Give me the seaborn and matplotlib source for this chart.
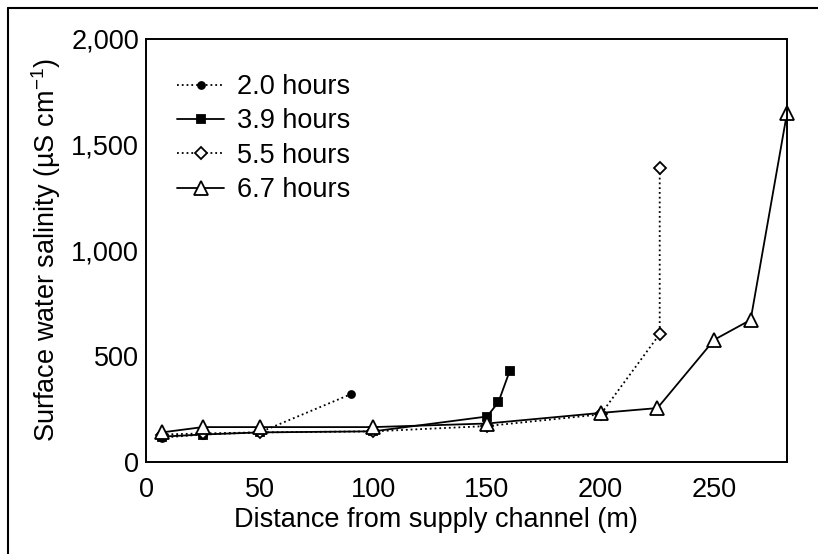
import matplotlib
matplotlib.use("Agg")
import matplotlib.pyplot as plt
import seaborn as sns
import pandas as pd
from matplotlib.ticker import FuncFormatter
from matplotlib.lines import Line2D

sns.set_style("white")
plt.rcParams['font.family'] = ['Liberation Sans', 'DejaVu Sans']
plt.rcParams['mathtext.fontset'] = 'custom'
plt.rcParams['mathtext.rm'] = 'Liberation Sans'
plt.rcParams['mathtext.it'] = 'Liberation Sans:italic'
plt.rcParams['text.color'] = 'black'
plt.rcParams['axes.labelcolor'] = 'black'
plt.rcParams['xtick.color'] = 'black'
plt.rcParams['ytick.color'] = 'black'

labels = ["2.0 hours", "3.9 hours", "5.5 hours", "6.7 hours"]
x_20 = [7, 25, 50, 90]
y_20 = [115, 130, 140, 320]
x_39 = [7, 25, 50, 100, 150, 155, 160]
y_39 = [120, 130, 140, 145, 215, 282, 430]
x_55 = [7, 25, 50, 100, 150, 200, 226, 226]
y_55 = [130, 135, 140, 145, 170, 225, 605, 1390]
x_67 = [7, 25, 50, 100, 150, 200, 225, 250, 266, 282]
y_67 = [140, 165, 165, 165, 182, 232, 255, 578, 672, 1650]

xs = [x_20, x_39, x_55, x_67]
ys = [y_20, y_39, y_55, y_67]
styles = [
    dict(linestyle=':', marker='o', markersize=5, markerfacecolor='black'),
    dict(linestyle='-', marker='s', markersize=6, markerfacecolor='black'),
    dict(linestyle=':', marker='D', markersize=6, markerfacecolor='white'),
    dict(linestyle='-', marker='^', markersize=10, markerfacecolor='white'),
]

FS = 19.5
fig = plt.figure(figsize=(8.18, 5.54), dpi=100)
ax = fig.add_axes([146/818, 1 - 462/554, (787-146)/818, (462-39)/554])

for lab, xv, yv, st in zip(labels, xs, ys, styles):
    df = pd.DataFrame({"x": xv, "y": yv})
    sns.lineplot(data=df, x="x", y="y", ax=ax, estimator=None, sort=False,
                 color='black', linewidth=1.3, markeredgecolor='black',
                 markeredgewidth=1.3, label=lab, clip_on=False, **st)

ax.set_xlim(0, 282)
ax.set_ylim(0, 2000)
ax.set_xticks([0, 50, 100, 150, 200, 250])
ax.set_yticks([0, 500, 1000, 1500, 2000])
ax.yaxis.set_major_formatter(FuncFormatter(lambda v, p: f"{int(v):,}"))
ax.tick_params(direction='in', length=5, width=1.2, labelsize=FS, colors='black')
ax.tick_params(axis='x', pad=11)
ax.tick_params(axis='y', pad=5)
for s in ax.spines.values():
    s.set_color('black')
    s.set_linewidth(1.4)
ax.set_xlabel("Distance from supply channel (m)", fontsize=FS, color='black')
ax.set_ylabel(r"Surface water salinity (µS cm$^{-1}$)", fontsize=FS, labelpad=6, color='black')
ax.xaxis.set_label_coords((436 - 146) / 641, -(507 - 462) / 423)

leg = ax.legend(loc='upper left', frameon=False, fontsize=FS, handlelength=1.75,
                handletextpad=0.45, labelspacing=0.31, borderpad=0, borderaxespad=0,
                bbox_to_anchor=((177 - 146) / 641, (462 - 74) / 423), labelcolor='black')

fig.add_artist(Line2D([8/818, 1.0], [1 - 8/554, 1 - 8/554], color='black', linewidth=1.5,
                      transform=fig.transFigure))
fig.add_artist(Line2D([8/818, 8/818], [0.0, 1 - 8/554], color='black', linewidth=1.5,
                      transform=fig.transFigure))

fig.savefig("out.png", dpi=100)
